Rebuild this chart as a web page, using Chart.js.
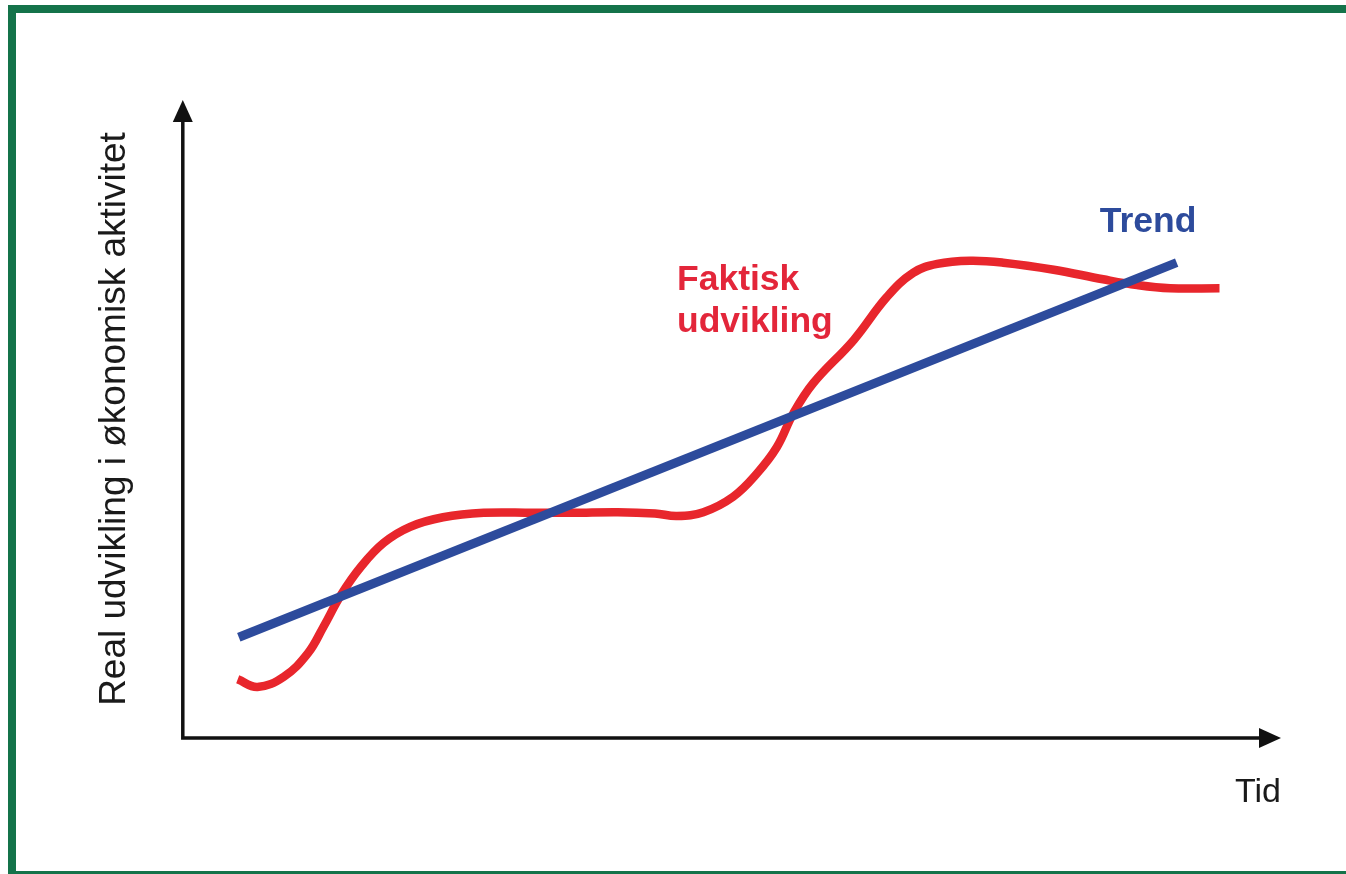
<!DOCTYPE html>
<html>
<head>
<meta charset="utf-8">
<title>Trend og faktisk udvikling</title>
<script src="https://cdn.jsdelivr.net/npm/chart.js@4.4.0/dist/chart.umd.min.js"></script>
<style>
  html, body { margin: 0; padding: 0; background: #fff; overflow: hidden; }
  body { width: 1346px; height: 874px; position: relative; }
  .frame {
    position: absolute; left: 8px; top: 5px;
    width: 1400px; height: 858px;
    border: 8px solid #14734a;
  }
  #chart { position: absolute; left: 0; top: 0; }
</style>
</head>
<body>
<div class="frame"></div>
<canvas id="chart" width="1346" height="874"></canvas>
<script>
const trendTime = [5.1, 90.5];
const trendValues = [15.8, 74.5];

const actualTime = [5.0, 6.8, 9.2, 11.4, 12.8, 14.4, 16.2, 18.3, 20.7, 23.7, 27.4, 31.9,
    35.5, 39.6, 43.0, 45.0, 47.4, 50.1, 52.3, 54.1, 55.6, 57.4, 61.1, 64.1,
    66.5, 68.7, 71.7, 74.7, 79.3, 83.8, 86.9, 89.9, 94.4];
const actualValues = [9.2, 8.0, 9.6, 13.3, 17.4, 22.4, 26.8, 30.6, 33.1, 34.6, 35.3, 35.3,
    35.3, 35.4, 35.2, 34.8, 35.4, 37.8, 41.5, 45.6, 50.9, 55.6, 62.4, 69.1,
    72.9, 74.3, 74.8, 74.5, 73.4, 71.9, 71.0, 70.5, 70.5];

const yTitle = 'Real udvikling i økonomisk aktivitet';
const xTitle = 'Tid';

const FONT = '"Liberation Sans", Arial, sans-serif';
const RED = '#e8262c';
const BLUE = '#2d4b9c';

function toPoints(xs, ys) {
    return xs.map((x, i) => ({ x: x, y: ys[i] }));
}

// Axis lines with arrow heads, drawn from the chart area
const arrowAxes = {
    id: 'arrowAxes',
    beforeDatasetsDraw(chart) {
        const { ctx, chartArea: a } = chart;
        const head = 22, half = 10;
        ctx.save();
        ctx.strokeStyle = '#111';
        ctx.fillStyle = '#111';
        ctx.lineWidth = 3.5;
        ctx.beginPath();
        ctx.moveTo(a.left, a.top + head - 2);
        ctx.lineTo(a.left, a.bottom);
        ctx.lineTo(a.right - head + 2, a.bottom);
        ctx.stroke();
        ctx.beginPath();
        ctx.moveTo(a.left, a.top);
        ctx.lineTo(a.left - half, a.top + head);
        ctx.lineTo(a.left + half, a.top + head);
        ctx.closePath();
        ctx.fill();
        ctx.beginPath();
        ctx.moveTo(a.right, a.bottom);
        ctx.lineTo(a.right - head, a.bottom - half);
        ctx.lineTo(a.right - head, a.bottom + half);
        ctx.closePath();
        ctx.fill();
        ctx.restore();
    }
};

// Series labels placed next to the lines
const seriesLabels = {
    id: 'seriesLabels',
    afterDatasetsDraw(chart) {
        const { ctx, scales: { x, y } } = chart;
        ctx.save();
        ctx.font = 'bold 35.5px ' + FONT;
        ctx.textBaseline = 'alphabetic';
        ctx.textAlign = 'left';
        ctx.fillStyle = BLUE;
        ctx.fillText('Trend', x.getPixelForValue(83.5), y.getPixelForValue(79.3));
        ctx.fillStyle = '#e3263a';
        ctx.fillText('Faktisk', x.getPixelForValue(45.0), y.getPixelForValue(70.2));
        ctx.fillText('udvikling', x.getPixelForValue(45.0), y.getPixelForValue(63.6));
        ctx.restore();
    }
};

new Chart(document.getElementById('chart'), {
    type: 'line',
    data: {
        datasets: [{
            label: 'Trend',
            data: toPoints(trendTime, trendValues),
            borderColor: BLUE,
            borderWidth: 9,
            borderCapStyle: 'butt',
            pointRadius: 0,
            tension: 0
        }, {
            label: 'Faktisk udvikling',
            data: toPoints(actualTime, actualValues),
            borderColor: RED,
            borderWidth: 8.5,
            borderCapStyle: 'butt',
            borderJoinStyle: 'round',
            pointRadius: 0,
            tension: 0.4
        }]
    },
    options: {
        responsive: false,
        animation: false,
        events: [],
        layout: { padding: { left: 72, right: 65, top: 100, bottom: 40.6 } },
        plugins: {
            legend: { display: false },
            tooltip: { enabled: false }
        },
        scales: {
            x: {
                type: 'linear',
                min: 0,
                max: 100,
                grid: { display: false, drawTicks: false },
                border: { display: false },
                ticks: { display: false },
                title: {
                    display: true,
                    text: xTitle,
                    align: 'end',
                    color: '#1a1a1a',
                    font: { family: FONT, size: 34 },
                    padding: { top: 34.6, bottom: 20 }
                }
            },
            y: {
                type: 'linear',
                min: 0,
                max: 100,
                grid: { display: false, drawTicks: false },
                border: { display: false },
                ticks: { display: false },
                title: {
                    display: true,
                    text: yTitle,
                    color: '#1a1a1a',
                    font: { family: FONT, size: 37 },
                    padding: { top: 20.8, bottom: 45.6 }
                }
            }
        }
    },
    plugins: [arrowAxes, seriesLabels]
});
</script>
</body>
</html>
